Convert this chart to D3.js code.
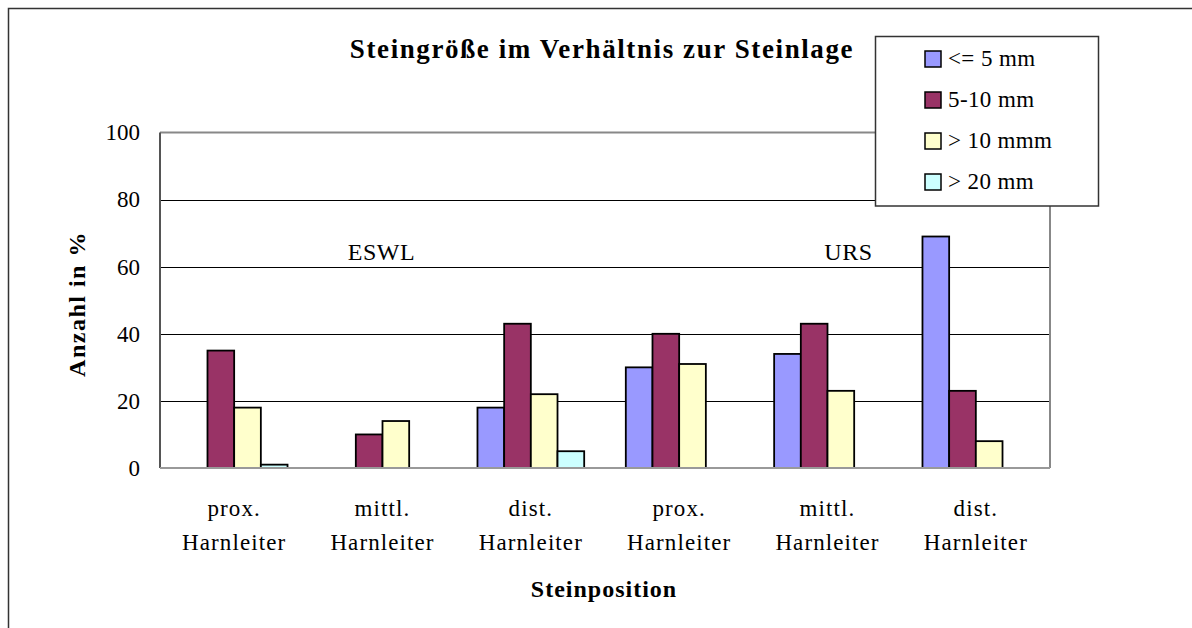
<!DOCTYPE html>
<html><head><meta charset="utf-8">
<script src="https://cdn.jsdelivr.net/npm/d3@7"></script>
<style>body{margin:0;background:#fff}svg{display:block}text{font-family:"Liberation Serif","Times New Roman",serif;fill:#000}</style>
</head><body>
<svg id="c" width="1192" height="628"></svg>
<script>
const categories = [["prox.","Harnleiter"],["mittl.","Harnleiter"],["dist.","Harnleiter"],["prox.","Harnleiter"],["mittl.","Harnleiter"],["dist.","Harnleiter"]];
const seriesNames = ["<= 5 mm","5-10 mm","> 10 mmm","> 20 mm"];
const seriesColors = ["#9999FF","#993366","#FFFFCC","#CCFFFF"];
const small  = [null, null, 18, 30, 34, 69];
const mid    = [35, 10, 43, 40, 43, 23];
const large  = [18, 14, 22, 31, 23, 8];
const xlarge = [1, null, 5, null, null, null];
const yTicks = [0,20,40,60,80,100];
const groupLabels = ["ESWL", "URS"];
const groupLabelCats = [1, 4];

const series = [small, mid, large, xlarge];
const svg = d3.select("#c");
const L=160, R=1050, T=132.5, B=468;
const x0 = d3.scaleBand().domain(d3.range(categories.length)).range([L,R]).padding(0);
const x1 = d3.scaleBand().domain(d3.range(series.length)).range([0,x0.bandwidth()]).paddingInner(0).paddingOuter(0.78);
const y = d3.scaleLinear().domain([0,100]).range([B,T]);

// outer border
svg.append("path").attr("d","M8.5,628 V8.5 H1192").attr("fill","none").attr("stroke","#333").attr("stroke-width",1.5);

// gridlines
svg.append("g").selectAll("line").data(yTicks.filter(d=>d>0&&d<100)).join("line")
  .attr("x1",L).attr("x2",R).attr("y1",d=>Math.round(y(d))+0.5).attr("y2",d=>Math.round(y(d))+0.5)
  .attr("stroke","#000").attr("stroke-width",1);
// plot frame top/right
svg.append("path").attr("d",`M${L},${y(100)} H${R} V${B}`).attr("fill","none").attr("stroke","#888").attr("stroke-width",2);

// bars
const g = svg.append("g");
series.forEach((vals,si)=>{
  g.selectAll(null).data(vals.map((v,ci)=>({v,ci})).filter(d=>d.v!==null)).join("rect")
    .attr("x",d=>x0(d.ci)+x1(si))
    .attr("width",x1.bandwidth())
    .attr("y",d=>y(d.v))
    .attr("height",d=>y(0)-y(d.v))
    .attr("fill",seriesColors[si]).attr("stroke","#000").attr("stroke-width",1.8);
});

// axes
svg.append("line").attr("x1",L).attr("x2",L).attr("y1",y(100)).attr("y2",B).attr("stroke","#555").attr("stroke-width",2);
svg.append("line").attr("x1",L).attr("x2",R).attr("y1",B).attr("y2",B).attr("stroke","#999").attr("stroke-width",2);

// y tick labels
const yAxis = d3.axisLeft(y).tickValues(yTicks).tickSize(0).tickPadding(20);
const ya = svg.append("g").attr("transform",`translate(${L},0)`).call(yAxis);
ya.select(".domain").remove();
ya.selectAll("text").attr("font-size",23).attr("font-family","Liberation Serif").attr("fill","#000").attr("dy","0.32em");

// category labels
const cl = svg.append("g").selectAll("text").data(categories).join("text")
  .attr("x",(d,i)=>x0(i)+x0.bandwidth()/2).attr("text-anchor","middle").attr("font-size",23).attr("letter-spacing","1.1px");
cl.append("tspan").attr("x",(d,i)=>x0(i)+x0.bandwidth()/2).attr("y",516).text(d=>d[0]);
cl.append("tspan").attr("x",(d,i)=>x0(i)+x0.bandwidth()/2).attr("y",550).text(d=>d[1]);

// group labels
const glDx = [-1, 21];
svg.append("g").selectAll("text").data(groupLabels).join("text")
  .attr("x",(d,i)=>x0(groupLabelCats[i])+x0.bandwidth()/2+glDx[i]).attr("y",259.5).attr("text-anchor","middle").attr("font-size",24).attr("letter-spacing","0.6px").text(d=>d);

// title
svg.append("text").attr("x",602).attr("y",58).attr("text-anchor","middle").attr("font-size",27).attr("font-weight","bold").attr("letter-spacing","1.6px")
  .text("Steingröße im Verhältnis zur Steinlage");
// axis titles
svg.append("text").attr("x",604).attr("y",597).attr("text-anchor","middle").attr("font-size",24).attr("font-weight","bold").attr("letter-spacing","1px").text("Steinposition");
svg.append("text").attr("transform","translate(85,304) rotate(-90)").attr("text-anchor","middle").attr("font-size",24).attr("font-weight","bold").attr("letter-spacing","1.5px").text("Anzahl in %");

// legend
const lg = svg.append("g");
lg.append("rect").attr("x",875.5).attr("y",36.5).attr("width",223).attr("height",169.5).attr("fill","#fff").attr("stroke","#333").attr("stroke-width",1.5);
const li = lg.selectAll("g").data(seriesNames).join("g").attr("transform",(d,i)=>`translate(925,${51+i*41})`);
li.append("rect").attr("width",16).attr("height",16).attr("fill",(d,i)=>seriesColors[i]).attr("stroke","#000").attr("stroke-width",1.5);
li.append("text").attr("x",23).attr("y",15).attr("font-size",23).attr("letter-spacing","0.4px").text(d=>d);
</script>
</body></html>
